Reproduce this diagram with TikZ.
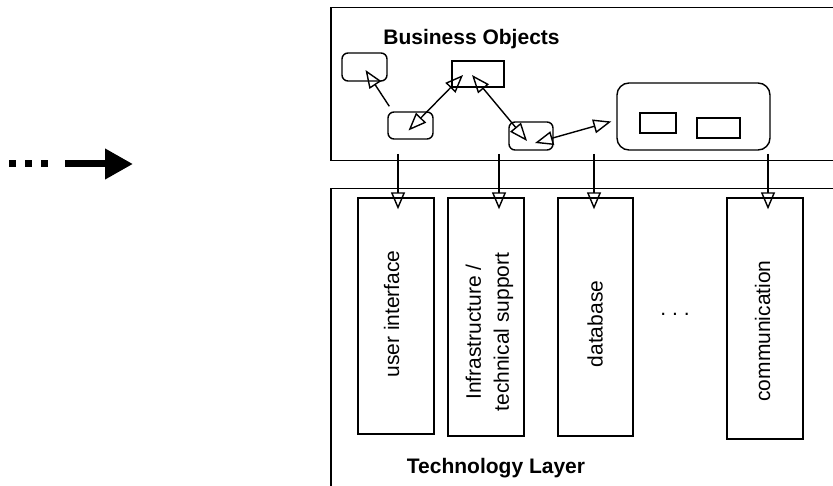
\documentclass[tikz,border=0pt]{standalone}
\usepackage{fontspec}
\setmainfont{Liberation Sans}
\usetikzlibrary{arrows.meta, positioning}
\tikzstyle{layer} = [rectangle, draw=black, line width=1.5pt, anchor=north west]
\tikzstyle{bobj} = [rectangle, rounded corners=6pt, draw=black, line width=1.4pt]
\tikzstyle{plainobj} = [rectangle, draw=black, line width=1.4pt]
\tikzstyle{techcol} = [rectangle, draw=black, line width=1.4pt, minimum width=76pt]
\tikzstyle{coltext} = [rotate=90, align=center, font=\fontsize{21}{28}\selectfont]
\tikzstyle{layertitle} = [font=\bfseries\fontsize{21}{25}\selectfont]
\tikzstyle{link} = [line width=1.4pt, {Triangle[open,length=18pt,width=14pt]}-{Triangle[open,length=18pt,width=14pt]}]
\tikzstyle{pointer} = [line width=1.4pt, -{Triangle[open,length=18pt,width=14pt]}]
\tikzstyle{feed} = [line width=1.4pt, -{Triangle[open,length=17pt,width=14pt]}, shorten >=-12pt]

\begin{document}
\begin{tikzpicture}[x=1pt, y=-1pt]
\useasboundingbox (0,0) rectangle (833,486);

% Lead-in arrow on the left
\foreach \x in {12,28.5,44.5}
  \fill (\x-3.5,160) rectangle (\x+3.5,167);
\coordinate (leadIn) at (65,164);
\coordinate (leadOut) at (133,164);
\draw [line width=7pt, -{Triangle[length=28pt,width=29pt]}] (leadIn) -- (leadOut);

% Layers
\node (bizLayer) [layer, minimum width=540pt, minimum height=153pt] at (330,7) {};
\node (techLayer) [layer, minimum width=540pt, minimum height=320pt] at (330,188) {};
\node (bizTitle) [layertitle] at (471.5,39) {Business Objects};
\node (techTitle) [layertitle] at (496,468.5) {Technology Layer};

% Business objects
\node (objA) [bobj, minimum width=45pt, minimum height=28pt] at (364.5,67) {};
\node (objB) [bobj, minimum width=45pt, minimum height=27pt] at (410.5,125.5) {};
\node (objC) [plainobj, minimum width=52pt, minimum height=26pt] at (478,74) {};
\node (objD) [bobj, minimum width=44pt, minimum height=28pt] at (531,136) {};
\node (objGroup) [bobj, rounded corners=12pt, minimum width=153pt, minimum height=67pt] at (693.5,116.5) {};
\node (objE1) [plainobj, minimum width=36pt, minimum height=20pt] at (658,123) {};
\node (objE2) [plainobj, minimum width=43pt, minimum height=20pt] at (718.5,128) {};

% Links between business objects
\draw [pointer] ([shift={(2,-5)}]objB.north west) -- ([shift={(1,3)}]objA.center);
\draw [link] ([shift={(-2,5)}]objB.center) -- ([shift={(-15,1)}]objC.center);
\draw [link] ([shift={(-6,1)}]objC.center) -- ([shift={(-4,5)}]objD.center);
\draw [link] ([shift={(4,7)}]objD.center) -- ([shift={(-5,5)}]objGroup.west);

% Technology columns
\node (ui) [techcol, minimum height=236pt] at (396,316) {};
\node (infra) [techcol, minimum height=238pt] at (486,317) {};
\node (db) [techcol, minimum width=75pt, minimum height=238pt] at (595.5,317) {};
\node (comm) [techcol, minimum height=241pt] at (765,318.5) {};

\node (uiLabel) [coltext] at (391.5,314) {user interface};
\node (infraLabel) [coltext] at (489.5,332) {Infrastructure /\\technical support};
\node (dbLabel) [coltext] at (595,324) {database};
\node (commLabel) [coltext] at (762.5,331) {communication};
\node (moreCols) [font=\fontsize{21}{25}\selectfont, anchor=base] at (675,316) {.~.~.};

% Drops from business objects into the technology layer
\coordinate (uiDrop) at (398,154);
\coordinate (infraDrop) at (499,154);
\coordinate (dbDrop) at (594,154);
\coordinate (commDrop) at (768,154);
\draw [feed] (uiDrop) -- (uiDrop |- ui.north);
\draw [feed] (infraDrop) -- (infraDrop |- infra.north);
\draw [feed] (dbDrop) -- (dbDrop |- db.north);
\draw [feed] (commDrop) -- (commDrop |- comm.north);

\end{tikzpicture}
\end{document}
